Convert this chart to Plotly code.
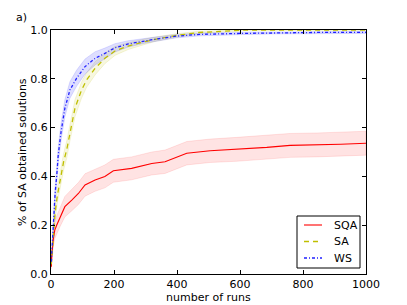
import plotly.graph_objects as go

# ---- data ----
runs_sqa = [1, 2, 7, 12, 18, 29, 44, 66, 87, 108, 140, 171, 198, 256, 320, 362, 431, 505, 590, 685, 759, 843, 920, 1000]
sqa_mean = [0.03, 0.07, 0.14, 0.18, 0.20, 0.235, 0.276, 0.303, 0.33, 0.365, 0.385, 0.40, 0.423, 0.433, 0.453, 0.46, 0.495, 0.505, 0.511, 0.519, 0.527, 0.529, 0.532, 0.536]
sqa_err = [0.01, 0.02, 0.03, 0.035, 0.038, 0.04, 0.042, 0.044, 0.045, 0.046, 0.046, 0.047, 0.047, 0.047, 0.047, 0.048, 0.048, 0.048, 0.049, 0.049, 0.049, 0.049, 0.049, 0.049]

runs_sa = [1, 7, 13, 20, 29, 40, 50, 60, 76, 97, 113, 140, 171, 203, 245, 298, 330, 400, 470, 550, 620, 700, 850, 1000]
sa_mean = [0.04, 0.15, 0.25, 0.32, 0.39, 0.46, 0.51, 0.58, 0.679, 0.754, 0.795, 0.843, 0.884, 0.914, 0.934, 0.952, 0.962, 0.978, 0.99, 0.995, 1.0, 1.0, 1.0, 1.0]
sa_err = [0.01, 0.02, 0.03, 0.03, 0.032, 0.034, 0.035, 0.035, 0.035, 0.033, 0.03, 0.027, 0.022, 0.018, 0.014, 0.011, 0.009, 0.007, 0.005, 0.003, 0.002, 0.0, 0.0, 0.0]

runs_ws = [1, 7, 13, 18, 23, 32, 44, 60, 81, 108, 140, 171, 203, 245, 298, 330, 400, 473, 600, 700, 850, 1000]
ws_mean = [0.05, 0.20, 0.33, 0.40, 0.488, 0.583, 0.679, 0.754, 0.802, 0.85, 0.884, 0.904, 0.927, 0.943, 0.956, 0.962, 0.975, 0.982, 0.986, 0.988, 0.99, 0.99]
ws_err = [0.01, 0.025, 0.03, 0.032, 0.034, 0.035, 0.035, 0.034, 0.033, 0.031, 0.027, 0.022, 0.017, 0.013, 0.01, 0.009, 0.007, 0.006, 0.005, 0.004, 0.004, 0.004]

series_names = ["SQA", "SA", "WS"]
x_ticks = [0, 200, 400, 600, 800, 1000]
y_ticks = [0.0, 0.2, 0.4, 0.6, 0.8, 1.0]

FONT = "DejaVu Sans"
W, H = 407, 305
ML, MR, MT, MB = 51, 41, 30, 31
PW, PH = W - ML - MR, H - MT - MB

fig = go.Figure()


def band(x, m, e, fillcolor, edgecolor):
    up = [a + b for a, b in zip(m, e)]
    lo = [a - b for a, b in zip(m, e)]
    fig.add_trace(go.Scatter(
        x=list(x) + list(x)[::-1], y=up + lo[::-1],
        fill="toself", fillcolor=fillcolor, mode="lines",
        line=dict(color=edgecolor, width=0.8), hoverinfo="skip",
        showlegend=False))


band(runs_sqa, sqa_mean, sqa_err, "rgba(255,0,0,0.11)", "rgba(255,0,0,0.13)")
band(runs_sa, sa_mean, sa_err, "rgba(191,191,0,0.12)", "rgba(191,191,0,0.18)")
band(runs_ws, ws_mean, ws_err, "rgba(0,0,255,0.13)", "rgba(0,0,255,0.15)")

styles = [
    dict(color="#ff0000", width=1.1),
    dict(color="#bfbf00", width=1.3, dash="5px,4px"),
    dict(color="#2020ff", width=1.3, dash="3px,2px,1px,2px"),
]
for name, xs, ys, st in zip(series_names, [runs_sqa, runs_sa, runs_ws],
                            [sqa_mean, sa_mean, ws_mean], styles):
    fig.add_trace(go.Scatter(x=xs, y=ys, mode="lines", name=name, line=st,
                             showlegend=False))

axis_common = dict(
    showline=True, linecolor="black", linewidth=1, mirror="ticks",
    ticks="inside", ticklen=4, tickcolor="black", showgrid=False, zeroline=False,
    tickfont=dict(family=FONT, size=11, color="black"),
)
fig.update_xaxes(range=[0, 1000], tickvals=x_ticks,
                 ticktext=[str(v) for v in x_ticks], **axis_common)
fig.update_yaxes(range=[0, 1], tickvals=y_ticks,
                 ticktext=[f"{v:.1f}" for v in y_ticks], **axis_common)


def px_x(p):
    return (p - ML) / PW


def px_y(p):
    return (H - MB - p) / PH


# legend drawn as box + samples + labels (paper coords from pixel layout)
shapes = [dict(type="rect", xref="paper", yref="paper",
               x0=px_x(297), x1=px_x(360), y0=px_y(268), y1=px_y(216),
               line=dict(color="black", width=1), fillcolor="white", layer="above")]
annotations = []
for i, (name, st) in enumerate(zip(series_names, styles)):
    yy = px_y(225 + i * 16.5)
    shapes.append(dict(type="line", xref="paper", yref="paper",
                       x0=px_x(304), x1=px_x(322), y0=yy, y1=yy, layer="above",
                       line=dict(color=st["color"], width=st["width"],
                                 dash=st.get("dash", "solid"))))
    annotations.append(dict(text=name, xref="paper", yref="paper", x=px_x(332), y=yy,
                            xanchor="left", yanchor="middle", showarrow=False,
                            font=dict(family=FONT, size=11)))

annotations += [
    dict(text="a)", xref="paper", yref="paper", x=px_x(22), y=px_y(17.5),
         xanchor="center", yanchor="middle", showarrow=False,
         font=dict(family=FONT, size=11)),
    dict(text="number of runs", xref="paper", yref="paper", x=0.5, y=px_y(297),
         xanchor="center", yanchor="middle", showarrow=False,
         font=dict(family=FONT, size=11)),
    dict(text="% of SA obtained solutions", xref="paper", yref="paper",
         x=px_x(22), y=0.5, xanchor="center", yanchor="middle", textangle=-90,
         showarrow=False, font=dict(family=FONT, size=11)),
]

fig.update_layout(
    width=W, height=H,
    margin=dict(l=ML, r=MR, t=MT, b=MB),
    paper_bgcolor="white", plot_bgcolor="white",
    font=dict(family=FONT, size=11, color="black"),
    showlegend=False,
    shapes=shapes,
    annotations=annotations,
)

fig.write_html("out.html", config={"displayModeBar": False},
               post_script="document.body.style.margin='0';")
